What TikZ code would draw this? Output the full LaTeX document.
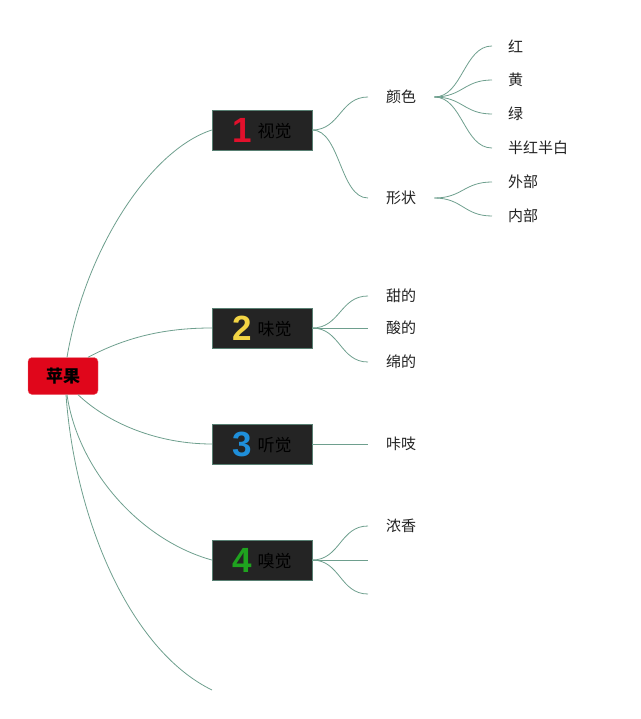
\documentclass[tikz,border=0pt]{standalone}
\usepackage{fontspec}
\setmainfont{Noto Sans CJK SC}
\newfontfamily\numfont{Liberation Sans}
\usetikzlibrary{positioning}

\definecolor{branch}{HTML}{6E9F8E}
\definecolor{rootred}{HTML}{E0061B}
\definecolor{topicbg}{HTML}{242424}
\definecolor{leaftext}{HTML}{222222}
\definecolor{numred}{HTML}{E2102C}
\definecolor{numyellow}{HTML}{F2D444}
\definecolor{numblue}{HTML}{1F8FDA}
\definecolor{numgreen}{HTML}{1FA31F}

\begin{document}
\begin{tikzpicture}[x=1pt, y=-1pt,
  rootbox/.style={draw=rootred!60, fill=rootred, rounded corners=4pt,
    minimum width=70pt, minimum height=37pt, inner sep=0pt,
    font=\fontsize{17}{20}\selectfont\bfseries, text=black},
  topic/.style={draw=branch!80!black, fill=topicbg, minimum width=100pt,
    minimum height=40pt, inner sep=0pt, font=\fontsize{17}{20}\selectfont,
    text=black},
  leaf/.style={anchor=west, inner sep=0pt, font=\fontsize{15}{18}\selectfont,
    text=leaftext},
  link/.style={draw=branch, line width=0.8pt},
]
\useasboundingbox (0,0) rectangle (640,719);

% ---------- Root ----------
\node[rootbox] (root) at (63,376) {苹果};

% ---------- Topics ----------
\foreach \t/\y/\num/\col/\lbl in {t1/130/1/numred/视觉, t2/328/2/numyellow/味觉,
                                  t3/444/3/numblue/听觉, t4/560/4/numgreen/嗅觉} {
  \node[topic] (\t) at (262,\y)
    {{\numfont\bfseries\fontsize{35}{35}\selectfont\color{\col}\num}\hspace{6pt}\raisebox{5pt}{\lbl}};
}
\coordinate (t5) at (212,690);

% root -> topics
\draw[link] ([xshift=4pt]root.north)  .. controls (85,250) and (150,150) .. (t1.west);
\draw[link] ([xshift=25pt]root.north) .. controls (130,335) and (170,328) .. (t2.west);
\draw[link] ([xshift=15pt]root.south) .. controls (110,425) and (160,444) .. (t3.west);
\draw[link] ([xshift=4pt]root.south)  .. controls (78,470) and (140,540) .. (t4.west);
\draw[link] ([xshift=3pt]root.south)  .. controls (75,520) and (130,650) .. (t5);

% ---------- Level 2 ----------
\node[leaf] (c1) at (386,97)  {颜色};
\node[leaf] (c2) at (386,198) {形状};
\node[leaf] (w1) at (386,296) {甜的};
\node[leaf] (w2) at (386,328) {酸的};
\node[leaf] (w3) at (386,362) {绵的};
\node[leaf] (h1) at (386,444) {咔吱};
\node[leaf] (s1) at (386,526) {浓香};
\coordinate (s2) at (368,560);
\coordinate (s3) at (368,594);

\foreach \a/\b in {t1/c1, t1/c2, t2/w1, t2/w2, t2/w3, t3/h1, t4/s1} {
  \draw[link] (\a.east) .. controls +(28,0) and +(-28,0) .. ([xshift=-18pt]\b.west);
}
\foreach \b in {s2, s3} {
  \draw[link] (t4.east) .. controls +(28,0) and +(-28,0) .. (\b);
}

% ---------- Level 3 ----------
\node[leaf] (r1) at (508,46)  {红};
\node[leaf] (r2) at (508,80)  {黄};
\node[leaf] (r3) at (508,114) {绿};
\node[leaf] (r4) at (508,148) {半红半白};
\node[leaf] (p1) at (508,182) {外部};
\node[leaf] (p2) at (508,216) {内部};

\foreach \a/\b in {c1/r1, c1/r2, c1/r3, c1/r4, c2/p1, c2/p2} {
  \draw[link] ([xshift=18pt]\a.east) .. controls +(28,0) and +(-28,0) .. ([xshift=-16pt]\b.west);
}

\end{tikzpicture}
\end{document}
